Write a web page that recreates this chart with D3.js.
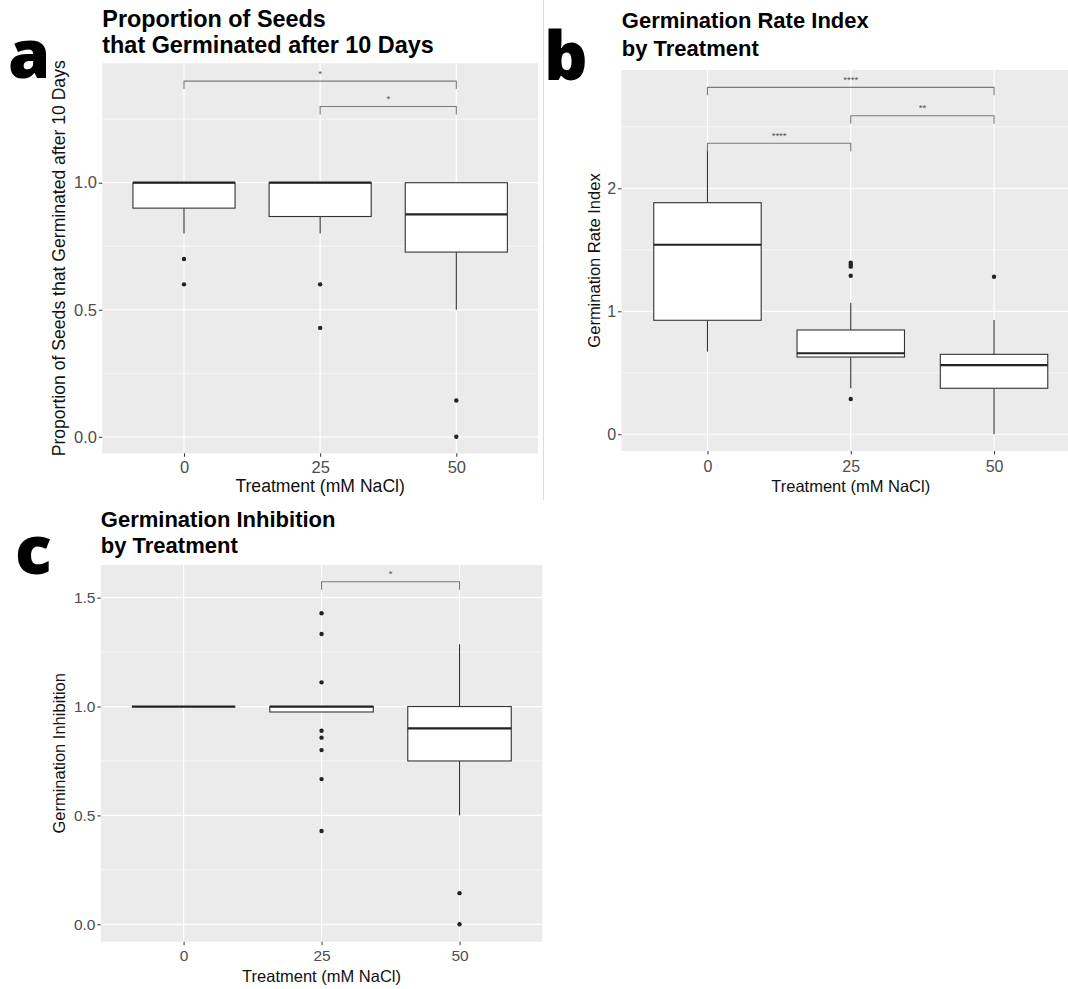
<!DOCTYPE html>
<html>
<head>
<meta charset="utf-8">
<script src="https://cdn.jsdelivr.net/npm/d3@7"></script>
<style>
  html, body { margin: 0; padding: 0; background: #fff; }
  svg { display: block; }
</style>
</head>
<body>
<svg id="chart" width="1068" height="989"></svg>
<script>
// ---------------- DATA ----------------
const treatments = ["0", "25", "50"];
const xTitle = "Treatment (mM NaCl)";

// Panel a: proportion germinated after 10 days
const aQ1 = [0.90, 0.867, 0.727];
const aMedian = [1.00, 1.00, 0.875];
const aQ3 = [1.00, 1.00, 1.00];
const aWhiskLo = [0.80, 0.80, 0.50];
const aWhiskHi = [1.00, 1.00, 1.00];
const aOutliers = [[0.70, 0.60], [0.60, 0.4286], [0.1429, 0.0]];
const aSig = [
  { from: "0", to: "50", y: 1.40, label: "*" },
  { from: "25", to: "50", y: 1.30, label: "*" }
];
const aYTicks = [0, 0.5, 1.0];
const aYTickLabels = ["0.0", "0.5", "1.0"];

// Panel b: germination rate index
const bQ1 = [0.927, 0.628, 0.374];
const bMedian = [1.541, 0.659, 0.563];
const bQ3 = [1.883, 0.848, 0.650];
const bWhiskLo = [0.672, 0.374, 0.0];
const bWhiskHi = [2.33, 1.07, 0.929];
const bOutliers = [[], [1.395, 1.379, 1.363, 1.289, 0.287], [1.281]];
const bSig = [
  { from: "0", to: "50", y: 2.821, label: "****" },
  { from: "25", to: "50", y: 2.590, label: "**" },
  { from: "0", to: "25", y: 2.366, label: "****" }
];
const bYTicks = [0, 1, 2];
const bYTickLabels = ["0", "1", "2"];

// Panel c: germination inhibition
const cQ1 = [1.00, 0.975, 0.75];
const cMedian = [1.00, 1.00, 0.90];
const cQ3 = [1.00, 1.00, 1.00];
const cWhiskLo = [1.00, 0.975, 0.50];
const cWhiskHi = [1.00, 1.00, 1.286];
const cOutliers = [[], [1.4286, 1.3333, 1.1111, 0.8889, 0.8571, 0.80, 0.6667, 0.4286], [0.1429, 0.0]];
const cSig = [
  { from: "25", to: "50", y: 1.573, label: "*" }
];
const cYTicks = [0, 0.5, 1.0, 1.5];
const cYTickLabels = ["0.0", "0.5", "1.0", "1.5"];

// ---------------- LAYOUT ----------------
const panels = [
  {
    letter: "a", letterX: 8, letterY: 78,
    title: ["Proportion of Seeds", "that Germinated after 10 Days"], titleX: 102.3, titleY: [26.7, 53.3], titleSize: 23.4,
    yLabel: "Proportion of Seeds that Germinated after 10 Days", yLabelX: 65,
    left: 102.3, right: 538, top: 63.3, bottom: 453.3, yDomain: [-0.065, 1.470],
    yTicks: aYTicks, yTickLabels: aYTickLabels, yMinor: [0.25, 0.75, 1.25],
    q1: aQ1, med: aMedian, q3: aQ3, lo: aWhiskLo, hi: aWhiskHi, out: aOutliers, sig: aSig,
    tickFont: 16.5, axisTitleFont: 17.6, xTickBase: 473.3, xTitleBase: 492.3
  },
  {
    letter: "b", letterX: 544, letterY: 80,
    title: ["Germination Rate Index", "by Treatment"], titleX: 621.8, titleY: [28.3, 55.5], titleSize: 22,
    yLabel: "Germination Rate Index", yLabelX: 600,
    left: 621.5, right: 1080, top: 70, bottom: 451, yDomain: [-0.136, 2.962],
    yTicks: bYTicks, yTickLabels: bYTickLabels, yMinor: [0.5, 1.5, 2.5],
    q1: bQ1, med: bMedian, q3: bQ3, lo: bWhiskLo, hi: bWhiskHi, out: bOutliers, sig: bSig,
    tickFont: 16, axisTitleFont: 16.5, xTickBase: 472, xTitleBase: 492
  },
  {
    letter: "c", letterX: 15, letterY: 574,
    title: ["Germination Inhibition", "by Treatment"], titleX: 100.8, titleY: [527.3, 553.3], titleSize: 22,
    yLabel: "Germination Inhibition", yLabelX: 65.3,
    left: 100.8, right: 542.3, top: 565, bottom: 941.7, yDomain: [-0.080, 1.650],
    yTicks: cYTicks, yTickLabels: cYTickLabels, yMinor: [0.25, 0.75, 1.25],
    q1: cQ1, med: cMedian, q3: cQ3, lo: cWhiskLo, hi: cWhiskHi, out: cOutliers, sig: cSig,
    tickFont: 15.5, axisTitleFont: 16.5, xTickBase: 961, xTitleBase: 982
  }
];

const svg = d3.select("#chart");
const FONT = "'Liberation Sans', Arial, Helvetica, sans-serif";

// separator line at left edge of panel b
svg.append("line")
  .attr("x1", 543.5).attr("x2", 543.5).attr("y1", 0).attr("y2", 500)
  .attr("stroke", "#dcdcdc").attr("stroke-width", 1);

panels.forEach(p => {
  const g = svg.append("g");
  const W = p.right - p.left, H = p.bottom - p.top;

  const x = d3.scalePoint().domain(treatments).range([p.left, p.right]).padding(0.6);
  const y = d3.scaleLinear().domain(p.yDomain).range([p.bottom, p.top]);
  const step = x.step();
  const bw = step * 0.75;

  // panel background
  g.append("rect").attr("x", p.left).attr("y", p.top).attr("width", W).attr("height", H)
    .attr("fill", "#ebebeb");

  // minor grid
  g.selectAll(".minor").data(p.yMinor).enter().append("line")
    .attr("x1", p.left).attr("x2", p.right)
    .attr("y1", d => y(d)).attr("y2", d => y(d))
    .attr("stroke", "#fff").attr("stroke-width", 0.6);
  // major grid
  g.selectAll(".majorY").data(p.yTicks).enter().append("line")
    .attr("x1", p.left).attr("x2", p.right)
    .attr("y1", d => y(d)).attr("y2", d => y(d))
    .attr("stroke", "#fff").attr("stroke-width", 1.2);
  g.selectAll(".majorX").data(treatments).enter().append("line")
    .attr("x1", d => x(d)).attr("x2", d => x(d))
    .attr("y1", p.top).attr("y2", p.bottom)
    .attr("stroke", "#fff").attr("stroke-width", 1.2);

  // boxes
  const boxes = treatments.map((t, i) => ({
    t, q1: p.q1[i], med: p.med[i], q3: p.q3[i], lo: p.lo[i], hi: p.hi[i], out: p.out[i]
  }));
  const bg = g.selectAll(".box").data(boxes).enter().append("g");
  bg.append("line")
    .attr("x1", d => x(d.t)).attr("x2", d => x(d.t))
    .attr("y1", d => y(d.q3)).attr("y2", d => y(d.hi))
    .attr("stroke", "#333").attr("stroke-width", 1.1);
  bg.append("line")
    .attr("x1", d => x(d.t)).attr("x2", d => x(d.t))
    .attr("y1", d => y(d.q1)).attr("y2", d => y(d.lo))
    .attr("stroke", "#333").attr("stroke-width", 1.1);
  bg.append("rect")
    .attr("x", d => x(d.t) - bw / 2).attr("width", bw)
    .attr("y", d => y(d.q3)).attr("height", d => Math.max(0, y(d.q1) - y(d.q3)))
    .attr("fill", "#fff").attr("stroke", "#333").attr("stroke-width", 1.1);
  bg.append("line")
    .attr("x1", d => x(d.t) - bw / 2).attr("x2", d => x(d.t) + bw / 2)
    .attr("y1", d => y(d.med)).attr("y2", d => y(d.med))
    .attr("stroke", "#222").attr("stroke-width", 2.2);
  bg.each(function(d) {
    d3.select(this).selectAll("circle").data(d.out).enter().append("circle")
      .attr("cx", x(d.t)).attr("cy", v => y(v)).attr("r", 2.2)
      .attr("fill", "#222");
  });

  // significance brackets
  const tip = 8;
  const sg = g.selectAll(".sig").data(p.sig).enter().append("g");
  sg.append("path")
    .attr("d", d => `M${x(d.from)},${y(d.y) + tip}V${y(d.y)}H${x(d.to)}V${y(d.y) + tip}`)
    .attr("fill", "none").attr("stroke", "#7a7a7a").attr("stroke-width", 1.1);
  sg.append("text")
    .attr("x", d => (x(d.from) + x(d.to)) / 2).attr("y", d => y(d.y) - 4.5)
    .attr("text-anchor", "middle")
    .attr("font-family", FONT).attr("font-size", 9.5).attr("fill", "#555")
    .text(d => d.label);

  // y axis
  const yAxis = d3.axisLeft(y).tickValues(p.yTicks)
    .tickFormat((d, i) => p.yTickLabels[i]).tickSize(3.5).tickPadding(1.8);
  const ya = g.append("g").attr("transform", `translate(${p.left},0)`).call(yAxis);
  ya.select(".domain").remove();
  ya.selectAll(".tick line").attr("stroke", "#333").attr("stroke-width", 1);
  ya.selectAll(".tick text").attr("font-family", FONT).attr("font-size", p.tickFont).attr("fill", "#4d4d4d");

  // x axis
  const pad = (p.xTickBase - p.bottom) - 0.71 * p.tickFont - 3.5;
  const xAxis = d3.axisBottom(x).tickSize(3.5).tickPadding(pad);
  const xa = g.append("g").attr("transform", `translate(0,${p.bottom})`).call(xAxis);
  xa.select(".domain").remove();
  xa.selectAll(".tick line").attr("stroke", "#333").attr("stroke-width", 1);
  xa.selectAll(".tick text").attr("font-family", FONT).attr("font-size", p.tickFont).attr("fill", "#4d4d4d");

  // axis titles
  g.append("text")
    .attr("x", (p.left + p.right) / 2).attr("y", p.xTitleBase)
    .attr("text-anchor", "middle")
    .attr("font-family", FONT).attr("font-size", p.axisTitleFont).attr("fill", "#111")
    .text(xTitle);
  g.append("text")
    .attr("transform", `translate(${p.yLabelX},${(p.top + p.bottom) / 2}) rotate(-90)`)
    .attr("text-anchor", "middle")
    .attr("font-family", FONT).attr("font-size", p.axisTitleFont).attr("fill", "#111")
    .text(p.yLabel);

  // plot title
  p.title.forEach((line, i) => {
    g.append("text")
      .attr("x", p.titleX).attr("y", p.titleY[i])
      .attr("font-family", FONT).attr("font-weight", "bold")
      .attr("font-size", p.titleSize).attr("fill", "#000")
      .text(line);
  });

  // panel letter
  g.append("text")
    .attr("x", p.letterX).attr("y", p.letterY)
    .attr("font-family", "'Open Sans', 'DejaVu Sans', sans-serif").attr("font-weight", 800)
    .attr("font-size", 68).attr("fill", "#000")
    .text(p.letter);
});
</script>
</body>
</html>
